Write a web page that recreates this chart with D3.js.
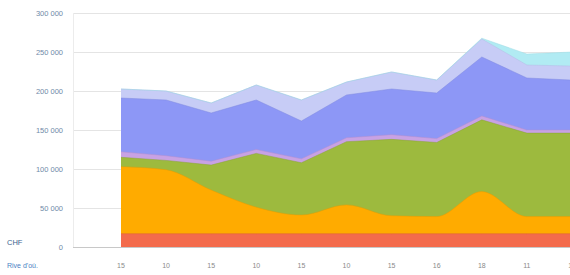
<!DOCTYPE html>
<html>
<head>
<meta charset="utf-8">
<script src="https://cdn.jsdelivr.net/npm/d3@7"></script>
<style>
  body { margin: 0; background: #fff; }
  svg { display: block; font-family: "Liberation Sans", Arial, sans-serif; }
  .grid line { stroke: #e4e4e4; }
  .y-axis text { fill: #6f8aa8; font-size: 7.5px; }
  .x-axis text { fill: #8a8a8a; font-size: 7px; }
</style>
</head>
<body>
<svg id="chart" width="570" height="275"></svg>
<script>
// Tick labels along the bottom
const periods = ["15", "10", "15", "10", "15", "10", "15", "16", "18", "11", "11"];

// Series values (CHF), bottom layer first
const redValues      = [17000, 17000, 17000, 17000, 17000, 17000, 17000, 17000, 17000, 17000, 17000];
const orangeValues   = [86000, 82000, 56000, 34000, 24000, 37000, 23000, 22000, 54000, 22000, 22000];
const greenValues    = [12000, 12000, 32000, 69000, 67000, 81000, 98000, 95000, 92000, 107000, 107000];
const pinkValues     = [7000, 6000, 5000, 5000, 5000, 5000, 6000, 5000, 5000, 4000, 4000];
const blueValues     = [69000, 71500, 61800, 63500, 48500, 54900, 58600, 58400, 75600, 66700, 64000];
const lavenderValues = [11600, 11500, 12800, 19200, 27000, 16600, 21800, 16700, 23100, 16600, 18000];
const cyanValues     = [0, 0, 0, 0, 0, 0, 0, 0, 1000, 14100, 18000];

const yTicks = [0, 50000, 100000, 150000, 200000, 250000, 300000];

const layers = [
  { id: "red",      fill: "#f36b4c", line: "#d9583c", smooth: true,  values: redValues },
  { id: "orange",   fill: "#ffab00", line: "#e89a00", smooth: true,  values: orangeValues },
  { id: "green",    fill: "#9dba3e", line: "#8aa533", smooth: false, values: greenValues },
  { id: "pink",     fill: "#c8a2e4", line: "#b08fce", smooth: false, values: pinkValues },
  { id: "blue",     fill: "#8d97f6", line: "#7f89e0", smooth: false, values: blueValues },
  { id: "lavender", fill: "#c7ccf6", line: "#b5bbe6", smooth: false, values: lavenderValues },
  { id: "cyan",     fill: "#b1ebf3", line: "#9fdbe4", smooth: false, values: cyanValues }
];

const table = periods.map((p, i) => {
  const row = { i };
  layers.forEach(l => { row[l.id] = l.values[i]; });
  return row;
});

/*********************/
/*  Scales and axes  */
/*********************/
const svg = d3.select("#chart");

const plotLeft = 73, plotRight = 570;

const xScale = d3.scaleLinear()
  .domain([0, periods.length - 1])
  .range([121, 572]);

const yScale = d3.scaleLinear()
  .domain([0, 300000])
  .range([247, 13]);

const fmt = d => d3.format(",")(d).replace(/,/g, " ");

svg.append("g")
  .attr("class", "grid")
  .selectAll("line")
  .data(yTicks.filter(t => t > 0))
  .join("line")
    .attr("x1", plotLeft).attr("x2", plotRight)
    .attr("y1", d => yScale(d) + 0.5).attr("y2", d => yScale(d) + 0.5);

svg.append("line")
  .attr("x1", plotLeft + 0.5).attr("x2", plotLeft + 0.5)
  .attr("y1", yScale(300000)).attr("y2", yScale(0))
  .attr("stroke", "#ececec");

svg.append("g")
  .attr("class", "y-axis")
  .attr("transform", "translate(66,0)")
  .call(d3.axisLeft(yScale).tickValues(yTicks).tickFormat(fmt).tickSize(0))
  .call(g => g.select(".domain").remove());

/************/
/*  Layers  */
/************/
// Each layer is filled from zero up to its stacked top, painted top layer first,
// so smooth and straight boundaries never leave gaps between layers.
const stackGenerator = d3.stack().keys(layers.map(l => l.id));
const stacked = stackGenerator(table).map((s, i) => ({ series: s, layer: layers[i] }));

const curveFor = l => l.smooth ? d3.curveMonotoneX : d3.curveLinear;

const layerGroup = svg.append("g");

stacked.slice().reverse().forEach(({ series, layer }) => {
  layerGroup.append("path")
    .attr("fill", layer.fill)
    .attr("d", d3.area()
      .x(d => xScale(d.data.i))
      .y0(yScale(0))
      .y1(d => yScale(d[1]))
      .curve(curveFor(layer))(series));
});

stacked.forEach(({ series, layer }) => {
  layerGroup.append("path")
    .attr("fill", "none")
    .attr("stroke", layer.line)
    .attr("stroke-width", 0.8)
    .attr("stroke-opacity", 0.6)
    .attr("d", d3.line()
      .x(d => xScale(d.data.i))
      .y(d => yScale(d[1]))
      .curve(curveFor(layer))(series));
});

// baseline
svg.append("line")
  .attr("x1", plotLeft).attr("x2", plotRight)
  .attr("y1", yScale(0) + 0.5).attr("y2", yScale(0) + 0.5)
  .attr("stroke", "#c8c8c8");

/************/
/*  X axis  */
/************/
svg.append("g")
  .attr("class", "x-axis")
  .selectAll("text")
  .data(periods)
  .join("text")
    .attr("x", (d, i) => xScale(i))
    .attr("y", 268)
    .attr("text-anchor", "middle")
    .text(d => d);

svg.append("text")
  .attr("x", 7).attr("y", 245)
  .attr("fill", "#3d5f8f")
  .attr("font-size", 7.5)
  .text("CHF");

svg.append("text")
  .attr("x", 7).attr("y", 268)
  .attr("fill", "#4a7fc4")
  .attr("font-size", 7)
  .text("Rive d'où.");
</script>
</body>
</html>
